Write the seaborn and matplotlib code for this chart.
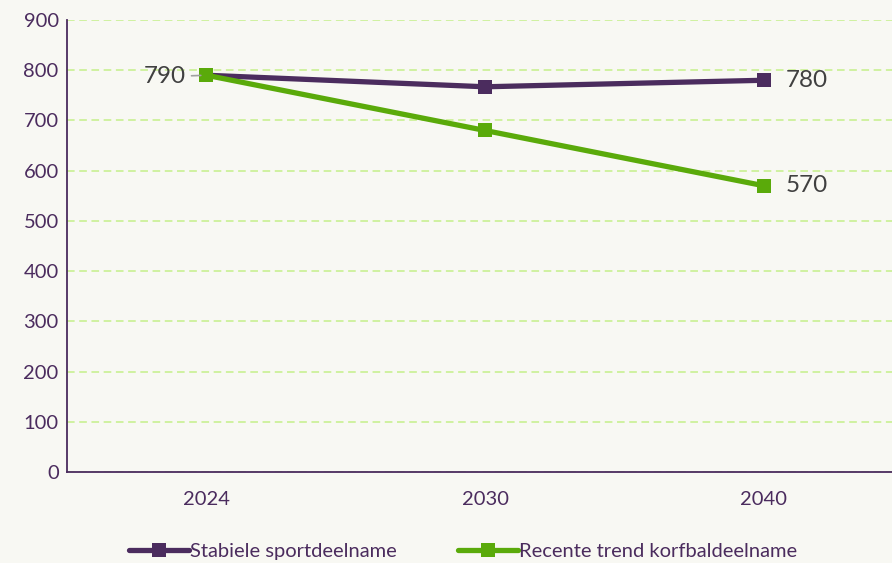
import pandas as pd
import seaborn as sns
import matplotlib.pyplot as plt

years = ["2024", "2030", "2040"]
stabiel = [790, 767, 780]
trend = [790, 680, 570]
series_names = ["Stabiele sportdeelname", "Recente trend korfbaldeelname"]

df = pd.DataFrame({
    "jaar": years * 2,
    "deelnemers": stabiel + trend,
    "scenario": [series_names[0]] * 3 + [series_names[1]] * 3,
})

purple = "#4b2c5e"
green = "#5aaa0a"
bg = "#f8f8f3"

sns.set_style("white")
plt.rcParams["font.family"] = ["Lato", "DejaVu Sans"]

fig = plt.figure(figsize=(8.92, 5.63), dpi=100, facecolor=bg)
ax = fig.add_axes([0.0751, 0.1616, 0.9249, 0.8029])
ax.set_facecolor(bg)

sns.lineplot(data=df, x="jaar", y="deelnemers", hue="scenario", style="scenario",
             palette=[purple, green], markers=["s", "s"], dashes=False,
             linewidth=3.8, markersize=10.5, markeredgewidth=0, ax=ax)

ax.set_xlim(-0.5, 2.46)
ax.set_ylim(0, 900)
ax.set_yticks(range(0, 901, 100))
ax.yaxis.grid(True, color="#c5f08a", linestyle=(0, (5, 3)), linewidth=1.1)
ax.set_axisbelow(True)
ax.set_xlabel("")
ax.set_ylabel("")
ax.tick_params(axis="both", labelsize=14.5, colors=purple, length=0, pad=6)
ax.tick_params(axis="x", pad=14)
for side in ["top", "right"]:
    ax.spines[side].set_visible(False)
for side in ["left", "bottom"]:
    ax.spines[side].set_color(purple)
    ax.spines[side].set_linewidth(1.3)

# data labels
ax.annotate(str(stabiel[0]), xy=(0, stabiel[0]), xytext=(-0.075, stabiel[0] - 3),
            ha="right", va="center", fontsize=17.5, color="#404040",
            arrowprops=dict(arrowstyle="-", color="#a0a0a0", lw=1.2, shrinkA=2, shrinkB=4))
ax.text(2.08, stabiel[2], str(stabiel[2]), ha="left", va="center", fontsize=17.5, color="#404040")
ax.text(2.08, trend[2], str(trend[2]), ha="left", va="center", fontsize=17.5, color="#404040")

leg = ax.legend(loc="lower center", bbox_to_anchor=(0.5 - 0.02, -0.235), ncol=2,
                frameon=False, fontsize=14.5, handlelength=3.0, handletextpad=0.05,
                columnspacing=3.0)
for t in leg.get_texts():
    t.set_color(purple)

fig.savefig("out.png", dpi=100, facecolor=bg)
